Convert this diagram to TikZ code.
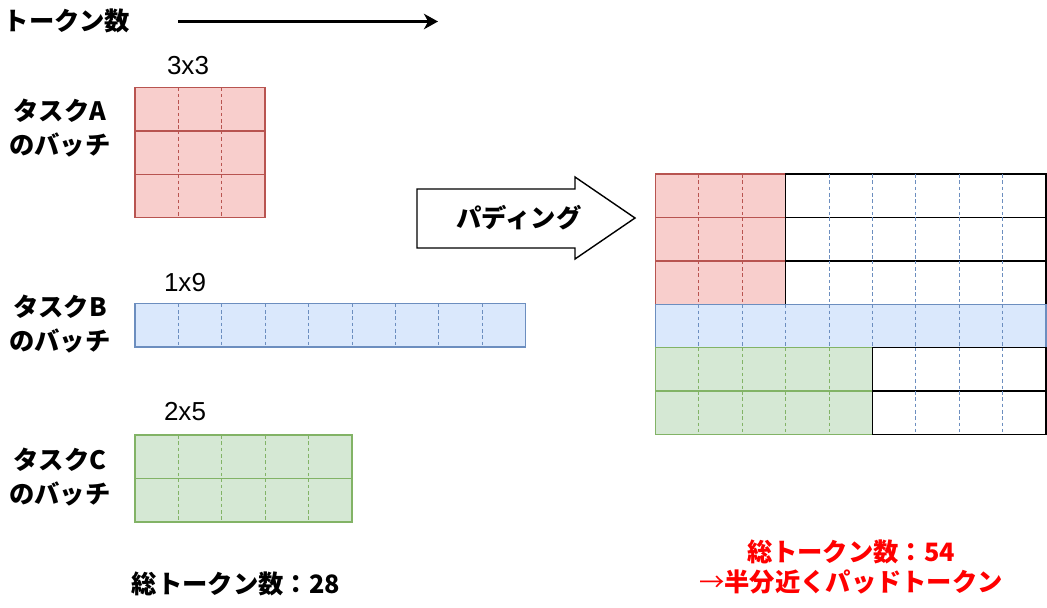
\documentclass[tikz,border=0pt]{standalone}
\usepackage{fontspec}
\setmainfont{Liberation Sans}
\newfontfamily\jp{Noto Sans CJK JP}
\usetikzlibrary{arrows.meta, positioning, calc}
\definecolor{taskafill}{HTML}{F8CECC}
\definecolor{taskaline}{HTML}{B85450}
\definecolor{taskbfill}{HTML}{DAE8FC}
\definecolor{taskbline}{HTML}{6C8EBF}
\definecolor{taskcfill}{HTML}{D5E8D4}
\definecolor{taskcline}{HTML}{82B366}
\definecolor{padred}{HTML}{FF0000}

% one row of tokens: left x, top y, cells, row style, cut style
\newcommand{\tokrow}[5]{%
  \draw[#4] (#1,#2) rectangle ++({#3*43.4},43.4);
  \pgfmathtruncatemacro{\lastcut}{#3-1}
  \foreach \k in {1,...,\lastcut}
    \draw[#5] ({#1+\k*43.4},#2) -- ++(0,43.4);
}

\begin{document}
\begin{tikzpicture}[x=0.025cm, y=-0.025cm,
    lbl/.style={font=\jp\bfseries\fontsize{18}{24.2}\selectfont,
                align=center, inner sep=0pt},
    dimlbl/.style={font=\fontsize{18.5}{20}\selectfont, inner sep=0pt, anchor=base},
    redrow/.style={draw=taskaline, fill=taskafill, line width=1pt},
    bluerow/.style={draw=taskbline, fill=taskbfill, line width=1pt},
    greenrow/.style={draw=taskcline, fill=taskcfill, line width=1pt},
    whiterow/.style={draw=black, fill=white, line width=1pt},
    redcut/.style={draw=taskaline, dash pattern=on 2.5pt off 2pt, line width=0.7pt},
    bluecut/.style={draw=taskbline, dash pattern=on 2.5pt off 2pt, line width=0.7pt},
    greencut/.style={draw=taskcline, dash pattern=on 2.5pt off 2pt, line width=0.7pt}
  ]
  \useasboundingbox (0,0) rectangle (1047,607);

  % token axis
  \node[lbl] (axislbl) at (67,21) {トークン数};
  \coordinate (axisbeg) at (178,21.5);
  \coordinate (axisend) at (438,21.5);
  \draw[-{Stealth[length=10pt, width=11pt, inset=3pt]}, line width=2pt]
    (axisbeg) -- (axisend);

  % batches before padding
  \node[lbl] (taska) at (60,128) {タスクA\\のバッチ};
  \node[dimlbl] (dima) at (188,74) {3x3};
  \foreach \r in {0,1,2} {
    \tokrow{135}{87.5+\r*43.4}{3}{redrow}{redcut}
  }

  \node[lbl] (taskb) at (60,324) {タスクB\\のバッチ};
  \node[dimlbl] (dimb) at (185,291) {1x9};
  \tokrow{135}{303.7}{9}{bluerow}{bluecut}

  \node[lbl] (taskc) at (60,477) {タスクC\\のバッチ};
  \node[dimlbl] (dimc) at (185,420) {2x5};
  \foreach \r in {0,1} {
    \tokrow{135}{435+\r*43.4}{5}{greenrow}{greencut}
  }

  \node[lbl] (totbefore) at (236,584) {総トークン数：28};

  % padding arrow
  \draw[line width=1pt, fill=white]
    (417,189) -- (575,189) -- (575,177) -- (635,218)
    -- (575,259) -- (575,248) -- (417,248) -- cycle;
  \node[lbl] (padlbl) at (519,218) {パディング};

  % batches after padding
  \foreach \r in {0,1,2} {
    \tokrow{655.5}{174+\r*43.4}{3}{redrow}{redcut}
    \tokrow{785.7}{174+\r*43.4}{6}{whiterow}{bluecut}
  }
  \tokrow{655.5}{304.2}{9}{bluerow}{bluecut}
  \foreach \r in {0,1} {
    \tokrow{655.5}{347.6+\r*43.4}{5}{greenrow}{greencut}
    \tokrow{872.5}{347.6+\r*43.4}{4}{whiterow}{bluecut}
  }

  \node[lbl, text=padred, font=\jp\bfseries\fontsize{18}{21.3}\selectfont]
    (totafter) at (851,567) {総トークン数：54\\{\mdseries →}半分近くパッドトークン};
\end{tikzpicture}
\end{document}
